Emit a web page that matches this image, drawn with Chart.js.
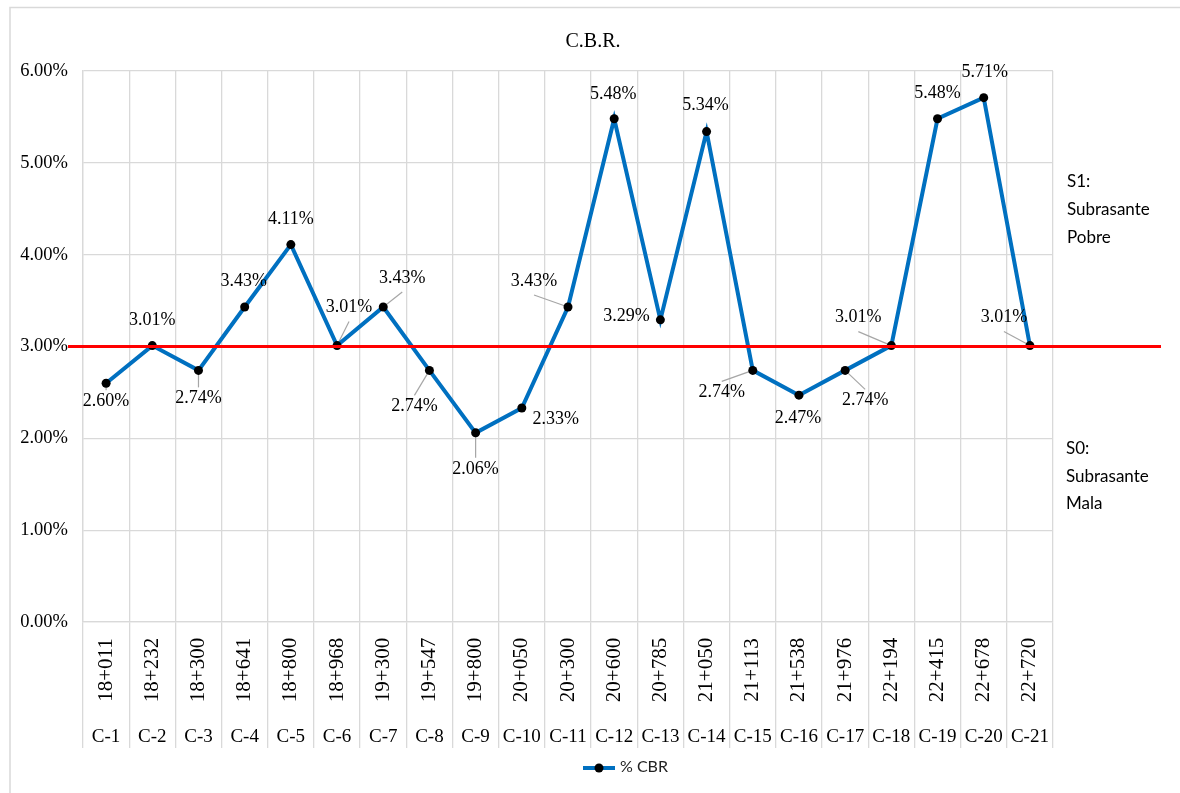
<!DOCTYPE html>
<html><head><meta charset="utf-8">
<script src="https://cdn.jsdelivr.net/npm/chart.js@4/dist/chart.umd.min.js"></script>
<style>html,body{margin:0;padding:0;background:#fff;}#wrap{width:1180px;height:793px;position:relative;}</style>
</head><body>
<div id="wrap"><canvas id="c" width="1180" height="793"></canvas></div>
<script>
// ---- data ----
const codes = ['C-1','C-2','C-3','C-4','C-5','C-6','C-7','C-8','C-9','C-10','C-11','C-12','C-13','C-14','C-15','C-16','C-17','C-18','C-19','C-20','C-21'];
const stations = ['18+011','18+232','18+300','18+641','18+800','18+968','19+300','19+547','19+800','20+050','20+300','20+600','20+785','21+050','21+113','21+538','21+976','22+194','22+415','22+678','22+720'];
const cbrValues = [2.60,3.01,2.74,3.43,4.11,3.01,3.43,2.74,2.06,2.33,3.43,5.48,3.29,5.34,2.74,2.47,2.74,3.01,5.48,5.71,3.01];
const thresholdValue = 3.00;
const yTickValues = [0,1,2,3,4,5,6];
const seriesName = '% CBR';
const titleText = 'C.B.R.';
const noteUpper = ['S1:','Subrasante','Pobre'];
const noteLower = ['S0:','Subrasante','Mala'];

// ---- label layout (offsets from point, leader flag) ----
const labelLayout = [
  [0,18,true],[0,-25,false],[0,28,true],[-1,-26,false],[0,-25,false],[12,-38,true],[19,-29,true],
  [-15,36,true],[0,36,true],[34,11,false],[-34,-26,true],[-1,-24,false],[-34,-4,false],[-1,-26,false],
  [-31,22,true],[-1,23,false],[20,30,true],[-33,-28,true],[0,-25,false],[1,-25,false],[-26,-28,true]
];

const SERIF = "'Liberation Serif','Times New Roman',serif";
const SANS = "Lato,'Open Sans',sans-serif";
const BLUE = '#0070C0';
const GRID = '#D9D9D9';

function fmt(v){ return v.toFixed(2) + '%'; }

const decor = {
  id: 'decor',
  beforeDatasetsDraw(chart){
    const ctx = chart.ctx, xs = chart.scales.x, ys = chart.scales.y;
    ctx.save();
    ctx.strokeStyle = '#A6A6A6'; ctx.lineWidth = 1.2;
    cbrValues.forEach((v,i)=>{
      const [dx,dy,leader] = labelLayout[i];
      if(!leader) return;
      const px = xs.getPixelForValue(i), py = ys.getPixelForValue(v);
      const cx = px+dx, cy = py+dy;
      const ey = dy > 0 ? cy - 11 : cy + 14;
      ctx.beginPath(); ctx.moveTo(px,py); ctx.lineTo(cx,ey); ctx.stroke();
    });
    ctx.restore();
  },
  afterDatasetsDraw(chart){
    const ctx = chart.ctx, xs = chart.scales.x, ys = chart.scales.y, ca = chart.chartArea;
    ctx.save();
    // title
    ctx.fillStyle = '#000'; ctx.font = '20px ' + SERIF;
    ctx.textAlign = 'center'; ctx.textBaseline = 'middle';
    ctx.fillText(titleText, 593, 42);
    // threshold line
    const ty = ys.getPixelForValue(thresholdValue);
    ctx.strokeStyle = '#FF0000'; ctx.lineWidth = 3;
    ctx.beginPath(); ctx.moveTo(68, ty); ctx.lineTo(1161, ty); ctx.stroke();
    // data labels
    ctx.fillStyle = '#000'; ctx.font = '18px ' + SERIF;
    ctx.textAlign = 'center'; ctx.textBaseline = 'middle';
    cbrValues.forEach((v,i)=>{
      const [dx,dy] = labelLayout[i];
      const px = xs.getPixelForValue(i), py = ys.getPixelForValue(v);
      ctx.fillText(fmt(v), px+dx, py+dy);
    });
    // x labels
    stations.forEach((s,i)=>{
      const x = xs.getPixelForValue(i);
      ctx.save();
      ctx.translate(x, ca.bottom + 48);
      ctx.rotate(-Math.PI/2);
      ctx.font = '21px ' + SERIF; ctx.textAlign='center'; ctx.textBaseline='middle';
      ctx.fillText(s, 0, 0);
      ctx.restore();
    });
    ctx.font = '19px ' + SERIF; ctx.textAlign='center'; ctx.textBaseline='alphabetic';
    codes.forEach((c,i)=>{
      ctx.fillText(c, xs.getPixelForValue(i), ca.bottom + 120);
    });
    // notes
    ctx.font = '17px ' + SANS; ctx.textAlign='left'; ctx.textBaseline='alphabetic'; ctx.fillStyle='#000';
    noteUpper.forEach((t,k)=> ctx.fillText(t, 1067, 187 + k*28));
    noteLower.forEach((t,k)=> ctx.fillText(t, 1066, 454 + k*27.5));
    // legend
    const ly = 768;
    ctx.strokeStyle = BLUE; ctx.lineWidth = 4;
    ctx.beginPath(); ctx.moveTo(583, ly); ctx.lineTo(615, ly); ctx.stroke();
    ctx.fillStyle = '#000';
    ctx.beginPath(); ctx.arc(599, ly, 4.5, 0, Math.PI*2); ctx.fill();
    ctx.font = '16px ' + SANS; ctx.textBaseline = 'middle'; ctx.fillStyle = '#222';
    ctx.fillText(seriesName, 620, ly - 1);
    // outer frame
    ctx.strokeStyle = GRID; ctx.lineWidth = 1.5;
    ctx.beginPath(); ctx.moveTo(10, 793); ctx.lineTo(10, 7.5); ctx.lineTo(1180, 7.5); ctx.stroke();
    ctx.restore();
  }
};

new Chart(document.getElementById('c'), {
  type: 'line',
  data: {
    labels: codes,
    datasets: [{
      label: seriesName,
      data: cbrValues,
      borderColor: BLUE,
      borderWidth: 4,
      pointBackgroundColor: '#000',
      pointBorderColor: '#000',
      pointRadius: 4.5,
      pointBorderWidth: 0,
      tension: 0,
      fill: false
    }]
  },
  options: {
    responsive: false,
    animation: false,
    devicePixelRatio: 1,
    events: [],
    layout: { padding: { left: 0, right: 127, top: 71, bottom: 45 } },
    plugins: {
      legend: { display: false },
      tooltip: { enabled: false },
      title: { display: false }
    },
    scales: {
      x: {
        type: 'category',
        offset: true,
        grid: { offset: true, color: GRID, lineWidth: 1.3, drawTicks: true, tickLength: 126, tickColor: GRID },
        border: { display: true, color: GRID, width: 1.3 },
        ticks: { display: false }
      },
      y: {
        min: 0, max: 6,
        afterFit(scale){ scale.width = 83; },
        afterBuildTicks(scale){ scale.ticks = yTickValues.map(v=>({value:v})); },
        grid: { color: GRID, lineWidth: 1.3, drawTicks: false },
        border: { display: true, color: GRID, width: 1.3 },
        ticks: {
          padding: 15, color: '#000',
          font: { family: SERIF, size: 18.5 },
          callback: v => fmt(v)
        }
      }
    }
  },
  plugins: [decor]
});
</script>
</body></html>
